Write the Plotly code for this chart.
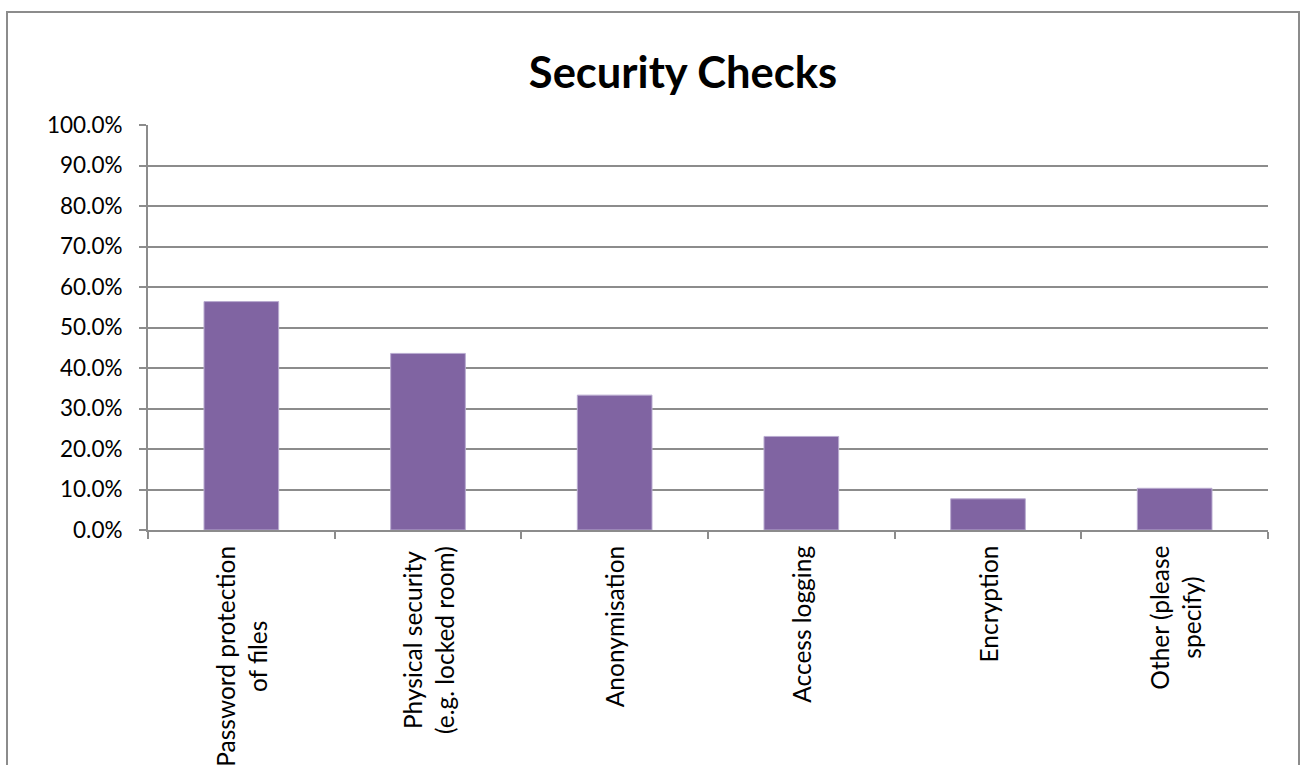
import plotly.graph_objects as go

# Survey results: share of respondents using each security measure
categories = [
    "Password protection<br>of files",
    "Physical security<br>(e.g. locked room)",
    "Anonymisation",
    "Access logging",
    "Encryption",
    "Other (please<br>specify)",
]
shares = [0.564, 0.436, 0.333, 0.231, 0.077, 0.103]
y_ticks = [0.0, 0.1, 0.2, 0.3, 0.4, 0.5, 0.6, 0.7, 0.8, 0.9, 1.0]

W, H = 1304, 765
L, R, T, B = 148, 36, 125, 235
GRID = "#8c8c8c"
FONT = "Lato"

fig = go.Figure(
    go.Bar(
        x=categories,
        y=shares,
        width=0.4,
        marker=dict(color="#8064A2", line=dict(color="#b9abd0", width=1)),
    )
)

# category labels, rotated and centred line by line under each bar
for c in categories:
    fig.add_annotation(
        x=c, xref="x", y=0, yref="paper",
        text=c, textangle=-90, align="center",
        xanchor="center", yanchor="top", yshift=-14,
        showarrow=False,
        font=dict(family=FONT, size=24.5, color="black"),
    )

# outer chart frame
pw, ph = W - L - R, H - T - B
fig.add_shape(
    type="rect", xref="paper", yref="paper",
    x0=(7 - L) / pw, x1=(1299 - L) / pw,
    y0=(H - B - 800) / ph, y1=(H - B - 12) / ph,
    line=dict(color="#8c8c8c", width=2),
    fillcolor="rgba(0,0,0,0)", layer="below",
)

fig.update_layout(
    width=W, height=H,
    margin=dict(l=L, r=R, t=T, b=B, autoexpand=False),
    paper_bgcolor="white", plot_bgcolor="white",
    showlegend=False,
    bargap=0.6,
    font=dict(family=FONT, color="black"),
    title=dict(
        text="<b>Security Checks</b>",
        x=683 / W, xref="container", xanchor="center",
        y=1 - 73 / H, yref="container", yanchor="middle",
        font=dict(family=FONT, size=43.5, color="black"),
    ),
    xaxis=dict(
        type="category",
        showticklabels=False,
        ticks="outside", tickson="boundaries", ticklen=7,
        tickcolor=GRID, tickwidth=2,
        showline=True, linecolor=GRID, linewidth=2,
        showgrid=False, zeroline=False,
    ),
    yaxis=dict(
        range=[0, 1],
        tickvals=y_ticks, tickformat=".1%",
        ticks="outside", ticklen=7, tickcolor=GRID, tickwidth=2,
        ticklabelstandoff=12,
        tickfont=dict(family=FONT, size=22.5, color="black"),
        showline=True, linecolor=GRID, linewidth=2,
        showgrid=True, gridcolor=GRID, gridwidth=2,
        zeroline=False,
    ),
)

fig.write_html("out.html")
